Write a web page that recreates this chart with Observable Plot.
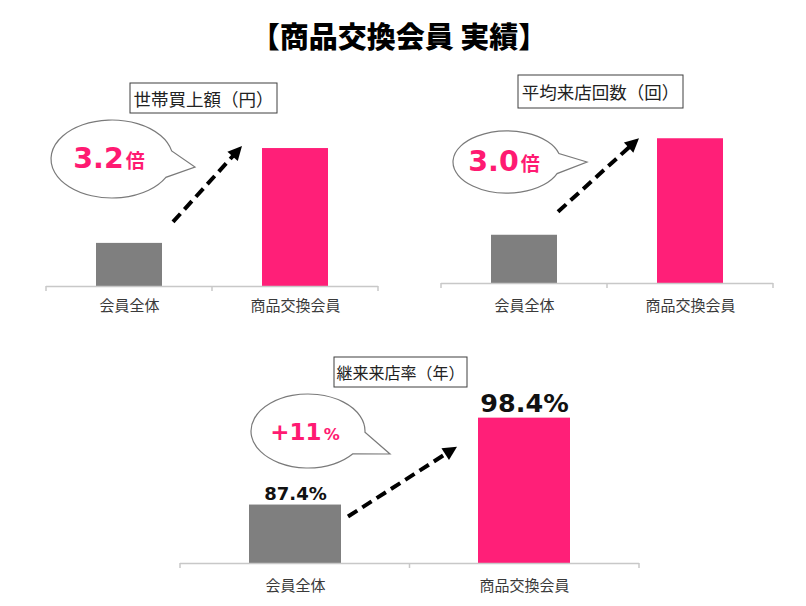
<!DOCTYPE html>
<html><head><meta charset="utf-8">
<script src="https://cdn.jsdelivr.net/npm/d3@7"></script>
<script src="https://cdn.jsdelivr.net/npm/@observablehq/plot@0.6"></script>
<style>
body{margin:0;background:#fff;}
#root{position:relative;width:806px;height:606px;overflow:hidden;font-family:"Noto Sans CJK JP",sans-serif;}
#title{position:absolute;left:0;width:798px;top:19px;text-align:center;font-size:29px;font-weight:900;line-height:32px;color:#000;}
.panel{position:absolute;}
</style>
</head><body>
<div id="root"><div id="title">【商品交換会員 実績】</div></div>
<script>
// ---- data ----
const categories = ["会員全体", "商品交換会員"];
const spendingValues = [1.0, 3.2];   // 世帯買上額 (relative)
const visitValues = [1.0, 3.0];      // 平均来店回数 (relative)
const retentionValues = [87.4, 98.4]; // 継続来店率 (%)
const panelTitles = ["世帯買上額（円）", "平均来店回数（回）", "継来来店率（年）"];
const bubbleNumbers = ["3.2", "3.0", "+11"];
const bubbleUnits = ["倍", "倍", "%"];
const retentionLabels = ["87.4%", "98.4%"];
const barColors = ["#7f7f7f", "#ff1f78"];

// ---- layout (annotation / frame settings) ----
const PINK = "#ff1a72";
const panels = [
  {values: spendingValues, title: panelTitles[0], num: bubbleNumbers[0], unit: bubbleUnits[0],
   left: 40, top: 70, width: 350, height: 260, mL: 6, mR: 12, mT: 22, mB: 44, yDomain: [0, 4.5], tickPad: 15,
   box: {x: 90, y: 13, w: 147, h: 30, fs: 17.5},
   bubble: {cx: 72, cy: 89, rx: 61, ry: 39, a1: -12, a2: 28, tip: [155, 97], numSize: 28.5, unitSize: 19, numFont: "DejaVu Sans"},
   arrow: {sdx: 11, sdy: -21, edx: -20, edy: -2}},
  {values: visitValues, title: panelTitles[1], num: bubbleNumbers[1], unit: bubbleUnits[1],
   left: 430, top: 66, width: 360, height: 264, mL: 11, mR: 17, mT: 24, mB: 47, yDomain: [0, 4], tickPad: 18,
   box: {x: 88, y: 9, w: 165, h: 33, fs: 17.5},
   bubble: {cx: 77, cy: 96, rx: 54, ry: 31, a1: -16, a2: 22, tip: [157, 96], numSize: 28.5, unitSize: 19, numFont: "DejaVu Sans"},
   arrow: {sdx: 1, sdy: -23, edx: -18, edy: 0}},
  {values: retentionValues, title: panelTitles[2], num: bubbleNumbers[2], unit: bubbleUnits[2], labels: retentionLabels,
   left: 170, top: 350, width: 480, height: 256, mL: 10, mR: 11, mT: 55, mB: 43, yDomain: [80, 100], tickPad: 18,
   box: {x: 164, y: 7, w: 133, h: 30, fs: 16},
   bubble: {cx: 138, cy: 81, rx: 57, ry: 37, a1: 2, a2: 38, tip: [220, 104], numSize: 23, unitSize: 16, numFont: "DejaVu Sans"},
   arrow: {sdx: 7, sdy: 12, edx: -21, edy: 29}}
];

const root = document.getElementById("root");

panels.forEach(p => {
  const data = categories.map((c, i) => ({category: c, value: p.values[i]}));
  const marks = [
    Plot.barY(data, {x: "category", y1: p.yDomain[0], y2: "value", fill: "category"}),
    Plot.ruleY([p.yDomain[0]], {stroke: "#c8c8c8", strokeWidth: 1.5}),
    Plot.axisX({tickSize: 0, tickPadding: p.tickPad - 1, fontSize: 15, color: "#3a3a3a", label: null})
  ];
  if (p.labels) {
    marks.push(Plot.text(data.slice(0, 1), {x: "category", y: "value", text: (d, i) => p.labels[0],
      dy: -5, lineAnchor: "bottom", fontSize: 18, fontWeight: "bold", fontFamily: "DejaVu Sans", fill: "#111"}));
    marks.push(Plot.text(data.slice(1), {x: "category", y: "value", text: (d, i) => p.labels[1],
      dy: -6, lineAnchor: "bottom", fontSize: 25.5, fontWeight: "bold", fontFamily: "DejaVu Sans", fill: "#111"}));
  }
  const plot = Plot.plot({
    width: p.width, height: p.height,
    marginLeft: p.mL, marginRight: p.mR, marginTop: p.mT, marginBottom: p.mB,
    x: {domain: categories, paddingInner: 0.6, paddingOuter: 0.3, axis: null},
    y: {domain: p.yDomain, axis: null},
    color: {domain: categories, range: barColors},
    style: {fontFamily: "'Noto Sans CJK JP', sans-serif", background: "transparent", overflow: "visible"},
    marks
  });
  plot.classList.add("panel");
  plot.style.left = p.left + "px";
  plot.style.top = p.top + "px";
  root.appendChild(plot);

  const sx = plot.scale("x"), sy = plot.scale("y");
  const svg = d3.select(plot);
  const base = sy.apply(p.yDomain[0]);
  const [r0, r1] = sx.range;
  const bw = sx.bandwidth;
  const x0 = sx.apply(categories[0]), x1 = sx.apply(categories[1]);
  const mid = (x0 + bw + x1) / 2;

  // axis ticks at band boundaries
  svg.append("g").attr("stroke", "#c8c8c8").attr("stroke-width", 1.5)
    .selectAll("line").data([r0, mid, r1]).join("line")
    .attr("x1", d => d).attr("x2", d => d).attr("y1", base).attr("y2", base + 5);

  // title box
  const g = svg.append("g");
  g.append("rect").attr("x", p.box.x).attr("y", p.box.y).attr("width", p.box.w).attr("height", p.box.h)
    .attr("fill", "#fff").attr("stroke", "#3f3f3f").attr("stroke-width", 1);
  g.append("text").attr("x", p.box.x + p.box.w / 2).attr("y", p.box.y + p.box.h / 2)
    .attr("text-anchor", "middle").attr("dominant-baseline", "central")
    .attr("font-size", p.box.fs).attr("fill", "#222").attr("font-family", "'Noto Sans CJK JP'")
    .text(p.title);

  // speech bubble
  const b = p.bubble;
  const pt = a => [b.cx + b.rx * Math.cos(a * Math.PI / 180), b.cy + b.ry * Math.sin(a * Math.PI / 180)];
  const p1 = pt(b.a1), p2 = pt(b.a2);
  svg.append("path")
    .attr("d", `M${p1[0]},${p1[1]} A${b.rx},${b.ry} 0 1 0 ${p2[0]},${p2[1]} L${b.tip[0]},${b.tip[1]} Z`)
    .attr("fill", "#fff").attr("stroke", "#7a7a7a").attr("stroke-width", 1.2);
  const t = svg.append("text").attr("x", b.cx - 3).attr("y", b.cy + 9)
    .attr("text-anchor", "middle").attr("fill", PINK).attr("font-weight", "bold");
  t.append("tspan").attr("font-family", b.numFont).attr("font-size", b.numSize).text(p.num);
  t.append("tspan").attr("font-family", p.unit === "%" ? "DejaVu Sans" : "'Noto Sans CJK JP'")
    .attr("font-size", b.unitSize).attr("dx", 2).text(p.unit);

  // dashed arrow from first bar toward second bar
  const a = p.arrow;
  const sxp = x0 + bw + a.sdx, syp = sy.apply(p.values[0]) + a.sdy;
  const exp = x1 + a.edx, eyp = sy.apply(p.values[1]) + a.edy;
  const dx = exp - sxp, dy = eyp - syp, len = Math.hypot(dx, dy);
  const ux = dx / len, uy = dy / len, head = 14, hw = 7;
  const bx = exp - ux * head, by = eyp - uy * head;
  svg.append("line").attr("x1", sxp).attr("y1", syp).attr("x2", bx + ux * 2).attr("y2", by + uy * 2)
    .attr("stroke", "#000").attr("stroke-width", 4).attr("stroke-dasharray", "11,6");
  svg.append("path")
    .attr("d", `M${exp},${eyp} L${bx - uy * hw},${by + ux * hw} L${bx + uy * hw},${by - ux * hw} Z`)
    .attr("fill", "#000");
});
</script>
</body></html>
